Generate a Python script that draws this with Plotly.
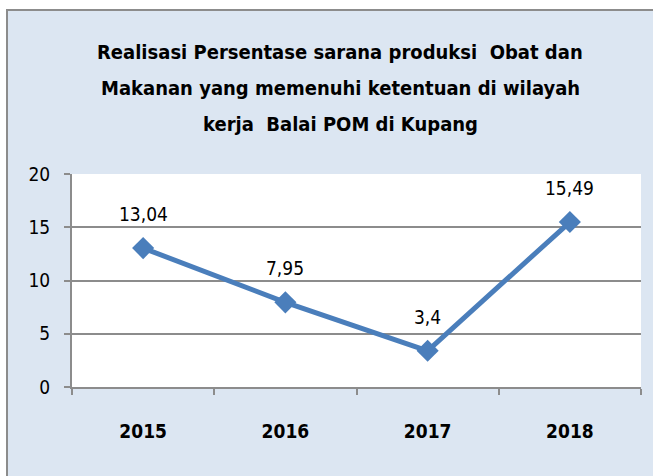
import plotly.graph_objects as go

years = ["2015", "2016", "2017", "2018"]
values = [13.04, 7.95, 3.4, 15.49]
value_labels = ["13,04", "7,95", "3,4", "15,49"]
title_lines = [
    "Realisasi Persentase sarana produksi  Obat dan",
    "Makanan yang memenuhi ketentuan di wilayah",
    "kerja  Balai POM di Kupang",
]
y_ticks = [0, 5, 10, 15, 20]

W, H = 653, 476
L, R, T, B = 72, 641, 174, 387
pw, ph = R - L, B - T

def px(x):
    return (x - L) / pw

def py(y):
    return (B - y) / ph

FONT = "DejaVu Sans Condensed, Liberation Sans Narrow, sans-serif"
BLUE = "#4a7ebb"
GRID = "#8c8c8c"

fig = go.Figure()
fig.add_trace(go.Scatter(
    x=years, y=values, mode="lines+markers",
    line=dict(color=BLUE, width=5),
    marker=dict(symbol="diamond", size=17, color=BLUE),
    hoverinfo="skip", showlegend=False,
))

annotations = []
for i, (v, lab) in enumerate(zip(values, value_labels)):
    annotations.append(dict(x=i, y=v, xref="x", yref="y", text=lab,
                            showarrow=False, yshift=34,
                            font=dict(family=FONT, size=19, color="#000000")))
title_y = [52, 88, 124]
for line, ty in zip(title_lines, title_y):
    annotations.append(dict(xref="paper", yref="paper", x=px(340), y=py(ty),
                            text="<b>" + line + "</b>", showarrow=False,
                            xanchor="center", yanchor="middle",
                            font=dict(family=FONT, size=20, color="#000000")))

shapes = [
    dict(type="rect", xref="paper", yref="paper", layer="below",
         x0=px(7), x1=px(W + 10), y0=py(H + 10), y1=py(10),
         fillcolor="#dce6f2", line=dict(color="#8c8c8c", width=2)),
    dict(type="rect", xref="paper", yref="paper", layer="below",
         x0=0, x1=1, y0=0, y1=1, fillcolor="#ffffff", line=dict(width=0)),
]

fig.update_layout(
    width=W, height=H,
    margin=dict(l=L, r=W - R, t=T, b=H - B, pad=0),
    paper_bgcolor="#ffffff", plot_bgcolor="#ffffff",
    font=dict(family=FONT, color="#000000"),
    annotations=annotations, shapes=shapes,
    xaxis=dict(type="category", range=[-0.5, 3.5], showgrid=False,
               showline=True, linecolor=GRID, linewidth=2,
               ticks="outside", tickson="boundaries", ticklen=6, tickcolor=GRID,
               tickwidth=2, tickfont=dict(family=FONT, size=19, color="#000000"),
               tickprefix="<b>", ticksuffix="</b>", ticklabelstandoff=26,
               fixedrange=True),
    yaxis=dict(range=[0, 20], tickvals=y_ticks, showgrid=True, gridcolor=GRID,
               gridwidth=2, zeroline=False, showline=True, linecolor=GRID,
               linewidth=2, ticks="outside", ticklen=6, tickcolor=GRID, tickwidth=2,
               tickfont=dict(family=FONT, size=19, color="#000000"),
               ticklabelstandoff=10, fixedrange=True),
)

fig.write_html("out.html", config={"displayModeBar": False},
               post_script="document.body.style.margin='0';document.body.style.padding='0';")
